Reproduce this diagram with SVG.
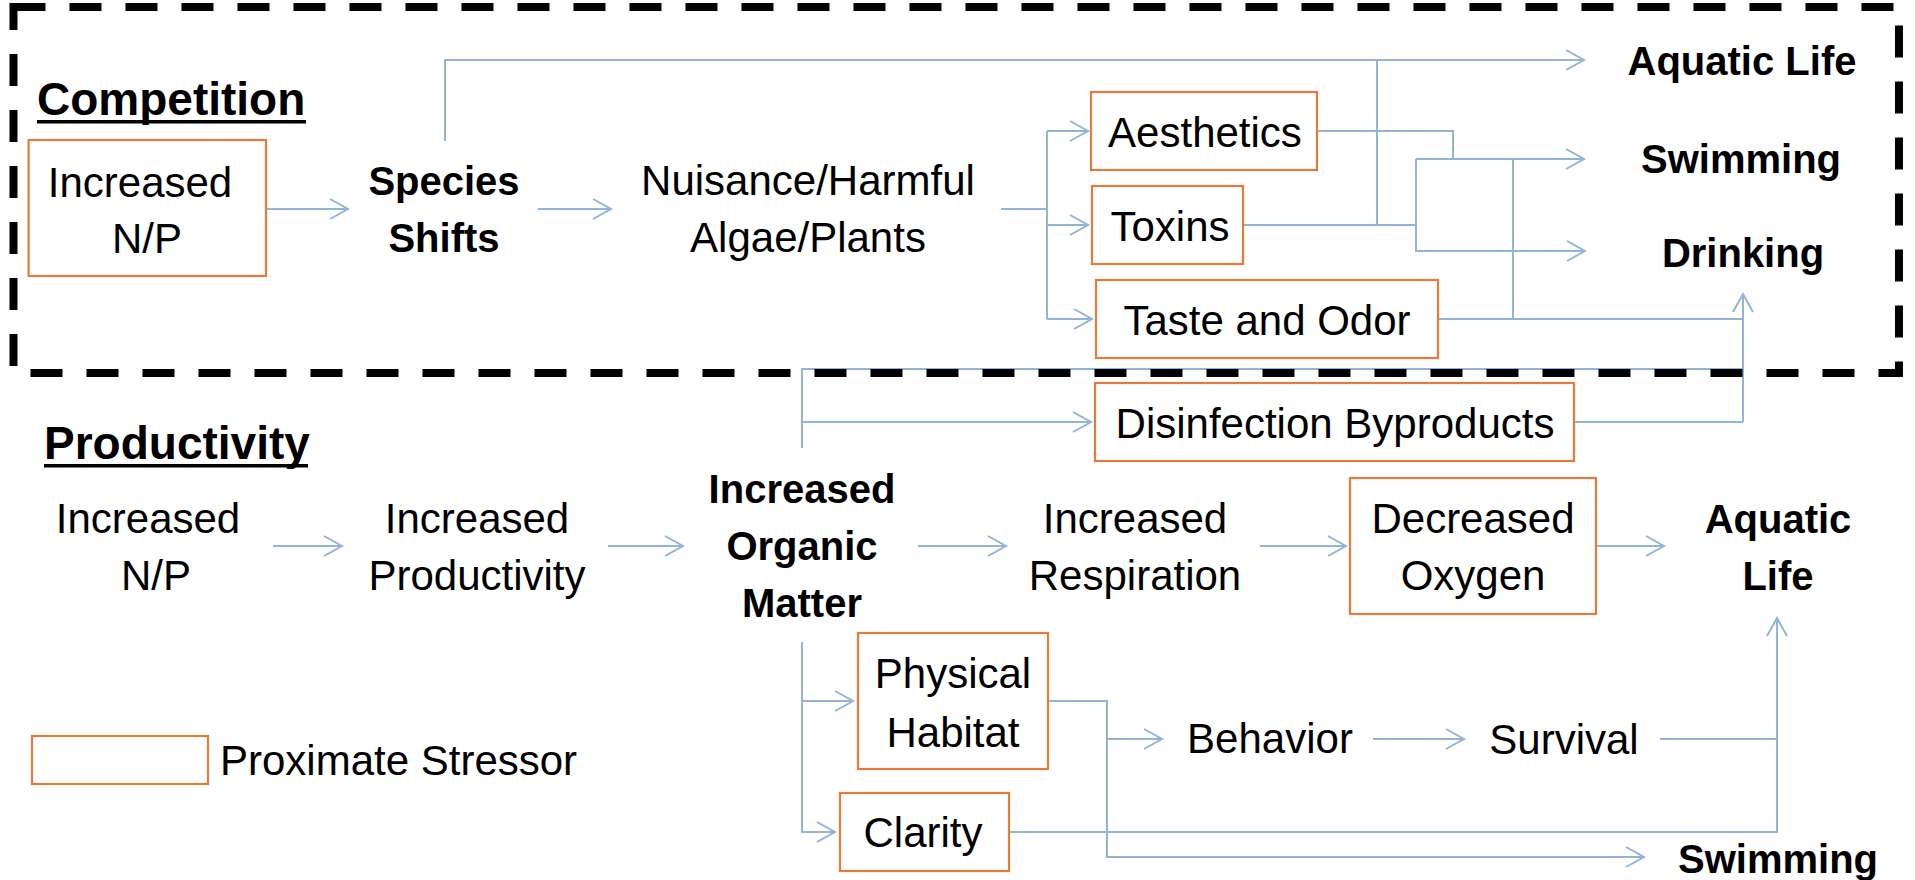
<svg xmlns="http://www.w3.org/2000/svg" width="1915" height="880" viewBox="0 0 1915 880">
<defs>
<marker id="ah" markerUnits="userSpaceOnUse" markerWidth="24" markerHeight="24" viewBox="-20 -12 24 24" refX="0" refY="0" orient="auto">
<path d="M-18,-10 L0,0 L-18,10" fill="none" stroke="#93B4D6" stroke-width="2"/>
</marker>
</defs>
<style>
text{font-family:"Liberation Sans",Arial,sans-serif;fill:#000}
.r{font-size:42px;text-anchor:middle}
.b{font-size:40px;font-weight:bold;text-anchor:middle}
.h{font-size:46px;font-weight:bold}
.box{fill:none;stroke:#E27B3B;stroke-width:2.2}
.c{fill:none;stroke:#93B4D6;stroke-width:2}
.a{marker-end:url(#ah)}
</style>
<rect width="1915" height="880" fill="#fff"/>
<g id="connectors">
<path class="c a" d="M266,209 H348"/>
<path class="c a" d="M445,141 V60 H1584"/>
<path class="c a" d="M538,209 H611"/>
<path class="c" d="M1001,209 H1047 M1047,131 V319"/>
<path class="c a" d="M1047,131 H1088"/>
<path class="c a" d="M1047,225 H1088"/>
<path class="c a" d="M1047,319 H1092"/>
<path class="c" d="M1317,131 H1453 V159"/>
<path class="c" d="M1243,225 H1416 M1377,225 V60"/>
<path class="c a" d="M1416,159 H1584"/>
<path class="c a" d="M1416,159 V251 H1585"/>
<path class="c" d="M1438,319 H1743 M1513,159 V319"/>
<path class="c a" d="M1743,422 V294"/>
<path class="c" d="M1574,422 H1743"/>
<path class="c" d="M802,448 V369 H1743"/>
<path class="c a" d="M802,422 H1091"/>
<path class="c a" d="M273,546 H342"/>
<path class="c a" d="M608,546 H683"/>
<path class="c a" d="M918,546 H1006"/>
<path class="c a" d="M1260,546 H1346"/>
<path class="c a" d="M1596,546 H1664"/>
<path class="c a" d="M802,642 V832 H835"/>
<path class="c a" d="M802,701 H853"/>
<path class="c a" d="M1048,701 H1107 V857 H1644"/>
<path class="c a" d="M1107,739 H1162"/>
<path class="c a" d="M1373,739 H1464"/>
<path class="c" d="M1660,739 H1777"/>
<path class="c a" d="M1009,832 H1777 V618"/>
</g>
<rect id="competition-frame" x="13.5" y="7" width="1885.5" height="366" fill="none" stroke="#000" stroke-width="8" stroke-dasharray="32 24"/>
<g id="competition-title"><text class="h" x="37" y="115">Competition</text><rect x="37" y="120" width="269" height="3.5" fill="#000"/></g>
<g id="productivity-title"><text class="h" x="44" y="459">Productivity</text><rect x="44" y="464" width="264" height="3.5" fill="#000"/></g>
<g id="c-np"><rect class="box" x="28.6" y="140" width="237.4" height="136"/><text class="r" x="140" y="197">Increased</text><text class="r" x="147" y="253">N/P</text></g>
<g id="c-species"><text class="b" x="444" y="195">Species</text><text class="b" x="444" y="252">Shifts</text></g>
<g id="c-nuisance"><text class="r" x="808" y="195">Nuisance/Harmful</text><text class="r" x="808" y="252">Algae/Plants</text></g>
<g id="c-aesthetics"><rect class="box" x="1091" y="92" width="226" height="78"/><text class="r" x="1205" y="147">Aesthetics</text></g>
<g id="c-toxins"><rect class="box" x="1092" y="186" width="151" height="78"/><text class="r" x="1170" y="241">Toxins</text></g>
<g id="c-taste"><rect class="box" x="1096" y="280" width="342" height="78"/><text class="r" x="1267" y="335">Taste and Odor</text></g>
<g id="c-aquatic"><text class="b" x="1742" y="75">Aquatic Life</text></g>
<g id="c-swimming"><text class="b" x="1741" y="173">Swimming</text></g>
<g id="c-drinking"><text class="b" x="1743" y="267">Drinking</text></g>
<g id="p-disinfection"><rect class="box" x="1095" y="383" width="479" height="78"/><text class="r" x="1335" y="438">Disinfection Byproducts</text></g>
<g id="p-np"><text class="r" x="148" y="533">Increased</text><text class="r" x="156" y="590">N/P</text></g>
<g id="p-productivity"><text class="r" x="477" y="533">Increased</text><text class="r" x="477" y="590">Productivity</text></g>
<g id="p-organic"><text class="b" x="802" y="503">Increased</text><text class="b" x="802" y="560">Organic</text><text class="b" x="802" y="617">Matter</text></g>
<g id="p-respiration"><text class="r" x="1135" y="533">Increased</text><text class="r" x="1135" y="590">Respiration</text></g>
<g id="p-oxygen"><rect class="box" x="1350" y="478" width="246" height="136"/><text class="r" x="1473" y="533">Decreased</text><text class="r" x="1473" y="590">Oxygen</text></g>
<g id="p-aquatic"><text class="b" x="1778" y="533">Aquatic</text><text class="b" x="1778" y="590">Life</text></g>
<g id="p-habitat"><rect class="box" x="858" y="633" width="190" height="136"/><text class="r" x="953" y="688">Physical</text><text class="r" x="953" y="747">Habitat</text></g>
<g id="p-clarity"><rect class="box" x="840" y="793" width="169" height="78"/><text class="r" x="923" y="847">Clarity</text></g>
<g id="p-behavior"><text class="r" x="1270" y="753">Behavior</text></g>
<g id="p-survival"><text class="r" x="1564" y="754">Survival</text></g>
<g id="p-swimming"><text class="b" x="1778" y="873">Swimming</text></g>
<g id="legend"><rect class="box" x="32" y="736" width="176" height="48"/><text x="220" y="775" style="font-size:42px">Proximate Stressor</text></g>
</svg>
